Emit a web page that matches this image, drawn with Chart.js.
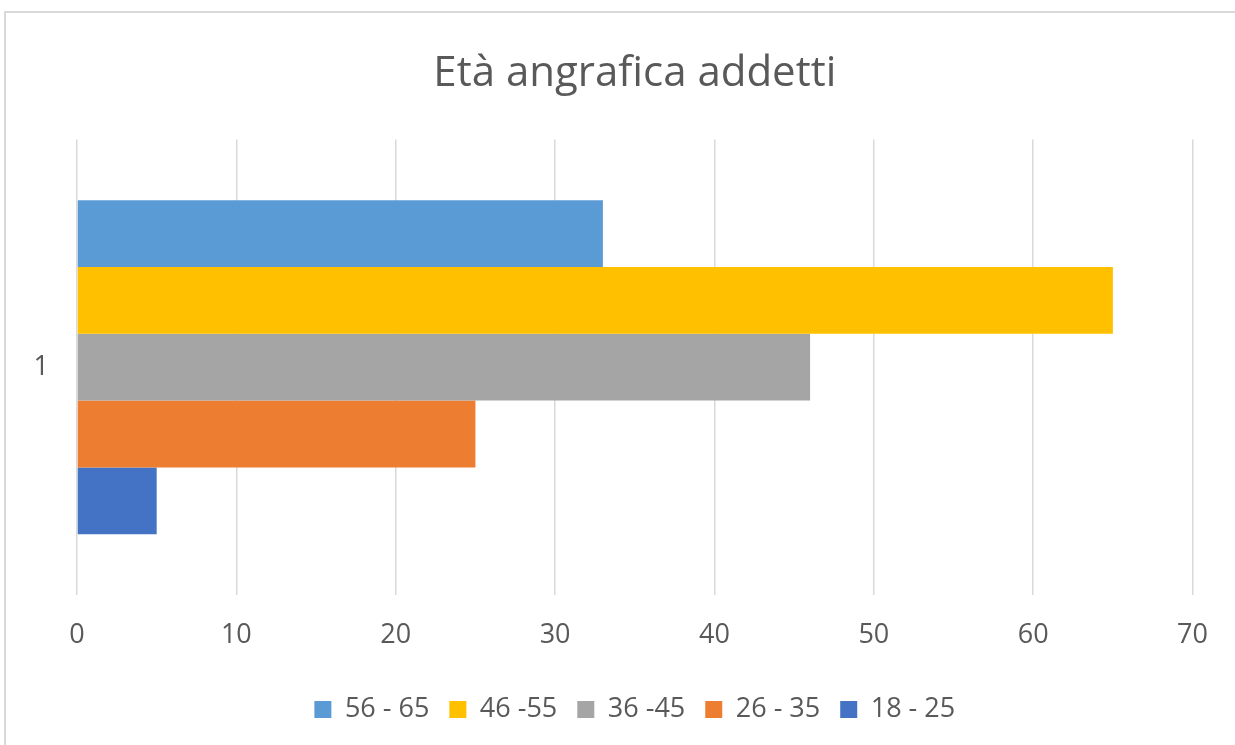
<!DOCTYPE html>
<html>
<head>
<meta charset="utf-8">
<script src="https://cdn.jsdelivr.net/npm/chart.js@4/dist/chart.umd.min.js"></script>
<style>
  body { margin: 0; background: #fff; }
  #frame { position: absolute; left: 4px; top: 11px; width: 1300px; height: 800px;
           border-left: 2px solid #d9d9d9; border-top: 2px solid #d9d9d9; }
  #wrap { position: absolute; left: 0; top: 0; width: 1235px; height: 745px; }
</style>
</head>
<body>
<div id="frame"></div>
<div id="wrap"><canvas id="myChart"></canvas></div>
<script>
const categories = ["1"];
const seriesNames = ["56 - 65", "46 -55", "36 -45", "26 - 35", "18 - 25"];
const seriesValues = [[33], [65], [46], [25], [5]];
const seriesColors = ["#5B9BD5", "#FFC000", "#A5A5A5", "#ED7D31", "#4472C4"];
const xTicks = [0, 10, 20, 30, 40, 50, 60, 70];

const font = "'Open Sans', sans-serif";

const datasets = seriesNames.map((name, i) => ({
  label: name,
  data: seriesValues[i],
  backgroundColor: seriesColors[i],
  barPercentage: 1,
  categoryPercentage: 0.733
}));

new Chart(document.getElementById("myChart"), {
  type: "bar",
  data: { labels: categories, datasets: datasets },
  options: {
    indexAxis: "y",
    responsive: true,
    maintainAspectRatio: false,
    animation: false,
    layout: { padding: { left: 30, right: 42, top: 49, bottom: 12 } },
    plugins: {
      title: {
        display: true,
        fullSize: false,
        text: "Età angrafica addetti",
        color: "#595959",
        font: { family: font, size: 42, weight: "normal" },
        padding: { top: 0, bottom: 40 }
      },
      legend: {
        position: "bottom",
        fullSize: false,
        labels: {
          color: "#595959",
          font: { family: font, size: 27, lineHeight: 1 },
          boxWidth: 17,
          boxHeight: 17,
          padding: 20
        }
      },
      tooltip: { enabled: false }
    },
    scales: {
      x: {
        min: 0,
        max: 70,
        afterBuildTicks: axis => { axis.ticks = xTicks.map(v => ({ value: v })); },
        grid: { color: "#d9d9d9", lineWidth: 1.5, drawTicks: false },
        border: { display: false },
        ticks: { color: "#595959", font: { family: font, size: 27, lineHeight: 1 }, padding: 27 }
      },
      y: {
        afterFit: axis => { axis.width = 47; },
        grid: { display: false, drawTicks: false },
        border: { display: false },
        ticks: { color: "#595959", font: { family: font, size: 27 }, padding: 28 }
      }
    }
  }
});
</script>
</body>
</html>
